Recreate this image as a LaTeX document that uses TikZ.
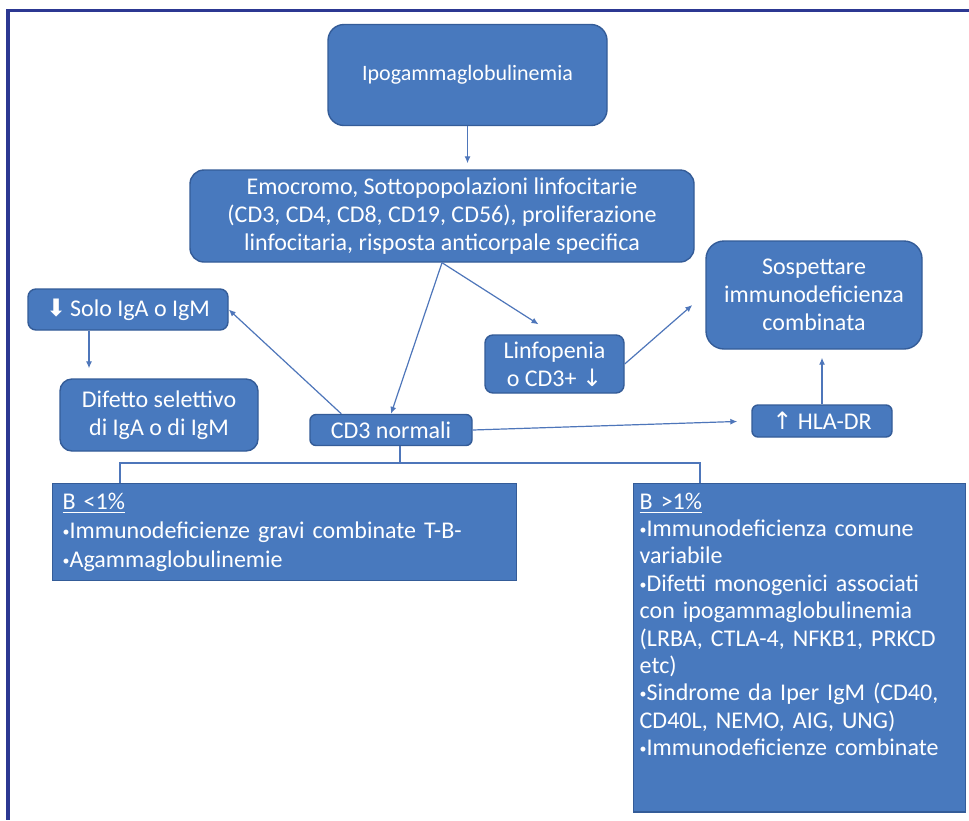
\documentclass[tikz,border=0pt]{standalone}
\usepackage{fontspec}
\setmainfont{Carlito}
\newfontfamily\symfont{DejaVu Sans}
\usetikzlibrary{arrows.meta}
\definecolor{boxfill}{RGB}{72,121,190}
\definecolor{boxline}{RGB}{52,92,152}
\definecolor{linkcol}{RGB}{78,118,186}
\definecolor{framecol}{RGB}{44,56,146}
\newcommand\bul{{\fontsize{7}{7}\selectfont\raisebox{1pt}{•}}}

\begin{document}
\begin{tikzpicture}[
    x=0.5pt, y=-0.5pt,
    font=\fontsize{12}{14}\selectfont,
    box/.style={draw=boxline, fill=boxfill, line width=0.7pt, text=white,
                rounded corners=5pt, align=center, inner sep=2pt},
    listbox/.style={draw=boxline, fill=boxfill, line width=0.7pt, text=white,
                anchor=north west, align=left, inner xsep=5pt, inner ysep=4.5pt},
    link/.style={draw=linkcol, line width=0.6pt},
    arr/.style={link, -{Latex[length=3.5pt,width=3pt]}},
  ]

  % ---- page and frame ---------------------------------------------------
  \useasboundingbox (0,0) rectangle (969,820);
  \fill[white] (0,0) rectangle (969,820);
  \draw[framecol, line width=1.6pt] (969,10.5) -- (8,10.5) -- (8,820);

  % ---- the boxes --------------------------------------------------------
  \node[box, minimum width=139.5pt, minimum height=50.5pt, rounded corners=8pt,
        font=\fontsize{11}{13}\selectfont] (ipo) at (467.5,75) {Ipogammaglobulinemia};
  \node[box, minimum width=252pt, minimum height=46pt, rounded corners=7pt]
       (emo) at (442,216) {Emocromo, Sottopopolazioni linfocitarie\\
                           (CD3, CD4, CD8, CD19, CD56), proliferazione\\
                           linfocitaria, risposta anticorpale specifica};
  \node[box, minimum width=100pt, minimum height=20.5pt, rounded corners=4pt]
       (solo) at (128,309.5) {{\symfont ⬇}\,Solo IgA o IgM};
  \node[box, minimum width=99pt, minimum height=36pt, rounded corners=6pt]
       (dif) at (159,415) {Difetto selettivo\\di IgA o di IgM};
  \node[box, minimum width=81pt, minimum height=15.5pt, rounded corners=3pt]
       (cd3) at (391,430) {CD3 normali};
  \node[box, minimum width=69.5pt, minimum height=29pt, rounded corners=4pt]
       (linf) at (554.5,364) {Linfopenia\\o CD3+ {\symfont ↓}};
  \node[box, minimum width=108pt, minimum height=54pt, rounded corners=9pt]
       (sosp) at (814,295) {Sospettare\\immunodeficienza\\combinata};
  \node[box, minimum width=70pt, minimum height=16pt, rounded corners=3pt]
       (hla) at (822,421) {{\symfont ↑} HLA-DR};

  % B cells below / above 1%
  \node[listbox, text width=222pt, font=\fontsize{12}{14.5}\selectfont]
       (bless) at (52,483) {\underline{B <1\%}\\
                            \bul Immunodeficienze gravi combinate T-B-\\
                            \bul Agammaglobulinemie};
  \node[listbox, inner xsep=3pt, text width=160pt, text depth=147pt,
        font=\fontsize{12}{13.7}\selectfont]
       (bmore) at (633,483) {\underline{B >1\%}\\
                             \bul Immunodeficienza comune\\
                             variabile\\
                             \bul Difetti monogenici associati\\
                             con ipogammaglobulinemia\\
                             (LRBA, CTLA-4, NFKB1, PRKCD\\
                             etc)\\
                             \bul Sindrome da Iper IgM (CD40,\\
                             CD40L, NEMO, AIG, UNG)\\
                             \bul Immunodeficienze combinate};

  % ---- connectors -------------------------------------------------------
  \draw[arr, shorten >=3pt] (ipo.south) -- (ipo.south |- emo.north);
  \draw[arr] (emo.south) -- (cd3.north);
  \draw[arr] (emo.south) -- ([xshift=-8pt,yshift=5pt]linf.north);
  \draw[arr] ([xshift=16pt]cd3.north west) -- (solo.east);
  \draw[arr, shorten >=5pt] ([xshift=-19.5pt]solo.south) -- ([xshift=-19.5pt]solo.south |- dif.north);
  \draw[arr] (linf.east) -- ([xshift=-6.5pt,yshift=-5pt]sosp.west);
  \draw[arr, shorten >=7pt] (cd3.east) -- (hla.west);
  \draw[arr, shorten >=4pt] (hla.north) -- (hla.north |- sosp.south);

  % split towards the two B boxes
  \coordinate (jl) at (120,463);
  \coordinate (jr) at (700,463);
  \draw[link] ([xshift=4.5pt]cd3.south) -- ([xshift=4.5pt]cd3.south |- jl);
  \draw[link] (jl |- bless.north) -- (jl) -- (jr) -- (jr |- bmore.north);

\end{tikzpicture}
\end{document}
